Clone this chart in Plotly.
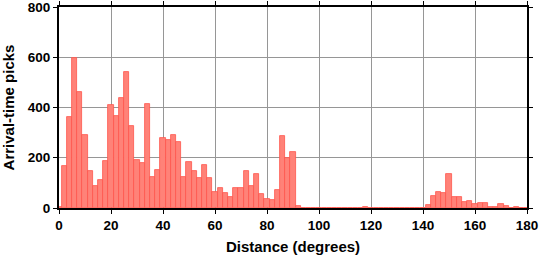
import plotly.graph_objects as go

# Bin centres (degrees), 2-degree bins
distance_centers = list(range(0, 182, 2))
pick_counts = [
    4, 168, 361, 599, 461, 291, 148, 89, 112, 188,
    410, 365, 438, 541, 327, 193, 180, 414, 123, 152,
    279, 271, 291, 263, 123, 184, 147, 120, 172, 120,
    65, 81, 61, 45, 79, 81, 148, 89, 136, 57,
    37, 33, 73, 287, 201, 223, 9, 0, 0, 1,
    0, 0, 0, 0, 0, 0, 1, 1, 1, 3,
    1, 1, 1, 0, 0, 0, 1, 0, 1, 0,
    1, 13, 49, 65, 61, 136, 45, 44, 24, 29,
    17, 21, 21, 5, 4, 17, 9, 1, 5, 0,
    0,
]
x_ticks = list(range(0, 181, 20))
y_ticks = list(range(0, 801, 200))

font_family = "Liberation Sans, Arial, Helvetica, sans-serif"

fig = go.Figure()
fig.add_trace(go.Bar(
    x=distance_centers,
    y=pick_counts,
    width=2,
    marker=dict(color="rgb(255,130,120)",
                line=dict(color="rgb(255,85,75)", width=0.8)),
))

axis_common = dict(
    showline=True, linecolor="black", linewidth=2, mirror="ticks",
    ticks="outside", ticklen=4, tickwidth=1, tickcolor="black",
    showgrid=True, gridcolor="rgb(150,150,150)", gridwidth=1,
    zeroline=False, automargin=False, ticklabeloverflow="allow",
    tickfont=dict(family=font_family, size=13.5, color="black", weight="bold"),
)

fig.update_layout(
    width=539, height=258,
    margin=dict(l=59, r=12, t=7, b=50),
    paper_bgcolor="white", plot_bgcolor="white",
    showlegend=False,
    bargap=0,
    xaxis=dict(range=[0, 180], tickvals=x_ticks,
               title=dict(text="Distance (degrees)", standoff=9,
                          font=dict(family=font_family, size=15, color="black", weight="bold")),
               **axis_common),
    yaxis=dict(range=[0, 800], tickvals=y_ticks,
               title=dict(text="Arrival-time picks", standoff=13,
                          font=dict(family=font_family, size=15, color="black", weight="bold")),
               **axis_common),
)

fig.write_html("out.html")
